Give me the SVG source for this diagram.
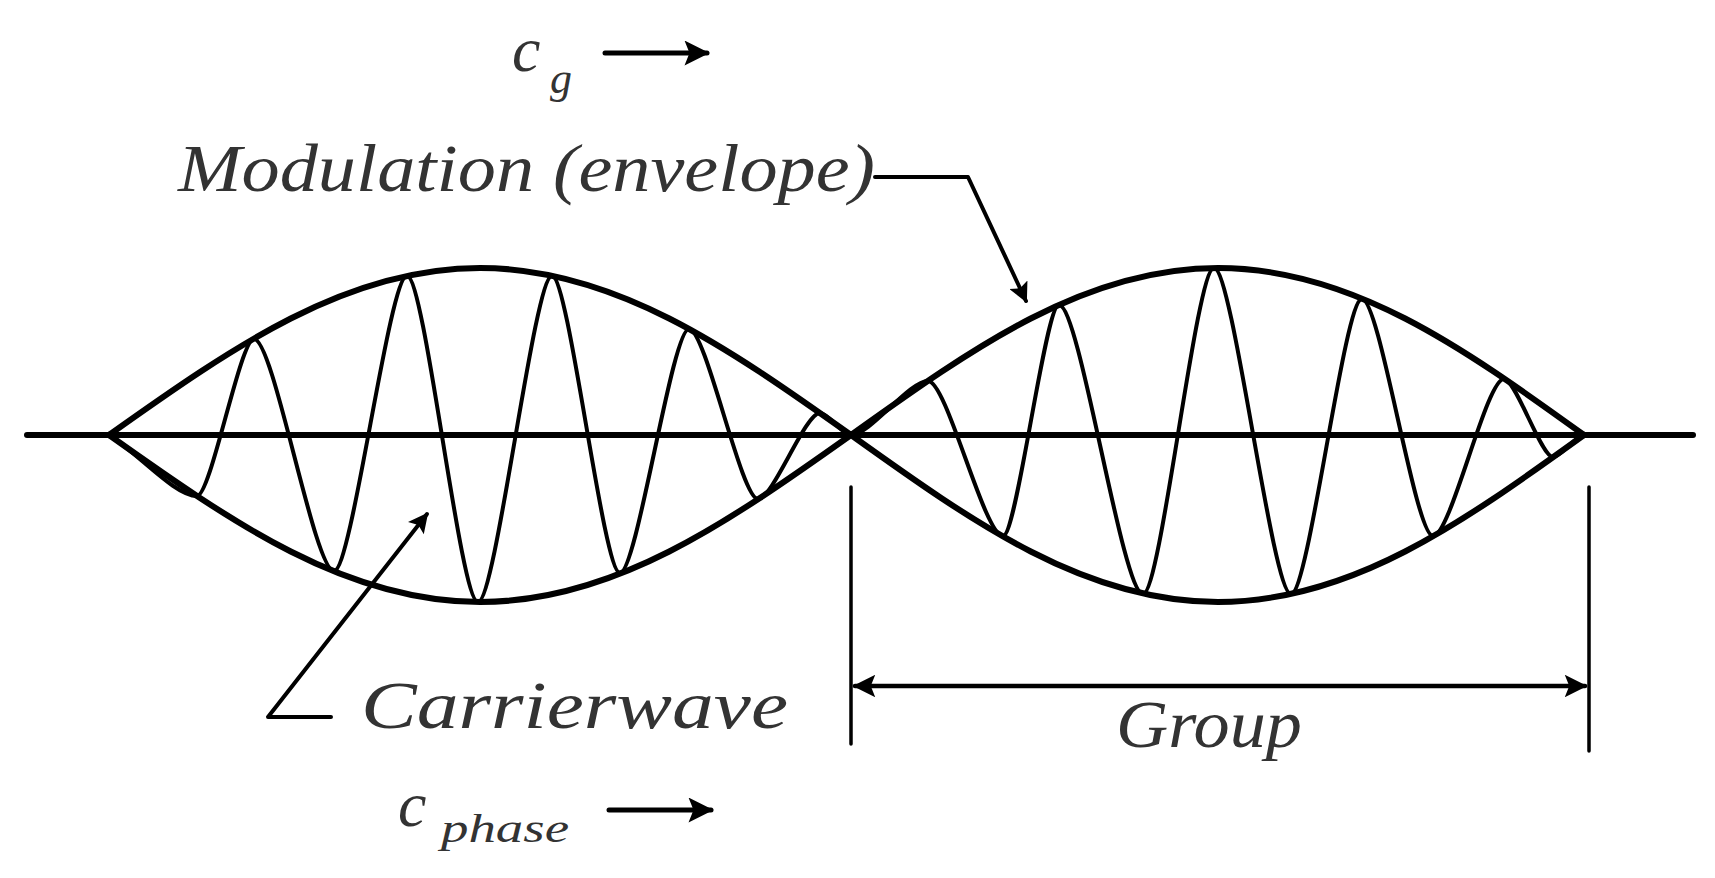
<svg xmlns="http://www.w3.org/2000/svg" width="1715" height="878" viewBox="0 0 1715 878">
<style>
.t{font-family:"Liberation Serif",serif;font-style:italic;fill:#333}
.ln{fill:none;stroke:#000;stroke-linecap:round;stroke-linejoin:round}
</style>
<defs>
<marker id="ah" viewBox="0 0 10 10" refX="9" refY="5" markerWidth="7" markerHeight="5" orient="auto-start-reverse" markerUnits="strokeWidth">
<path d="M0,0 L10,5 L0,10 L2,5 Z" fill="#000"/>
</marker>
</defs>
<rect width="1715" height="878" fill="#fff"/>
<g id="axis"><path class="ln" d="M27,435 H1693" stroke-width="6"/></g>
<g id="envelope">
<path class="ln" stroke-width="6" d="M109,435 C233,347 346,268 480,268 C614,268 727,347 851,435 C974,347 1085,268 1218,268 C1351,268 1462,347 1584,435"/>
<path class="ln" stroke-width="6" d="M109,435 C233,523 346,602 480,602 C614,602 727,523 851,435 C974,523 1085,602 1218,602 C1351,602 1462,523 1584,435"/>
</g>
<g id="carrier">
<path class="ln" stroke-width="4" d="M109,435 C140,455 175,496 197,496 C211,496 240,339 254,339 C274,339 314,571 334,571 C352,571 389,276 407,276 C425,276 460,602 478,602 C496,602 534,276 552,276 C569,276 603,573 620,573 C637,573 672,329 689,329 C706,329 741,499 758,499 C773,499 805,413 820,413 C828,413 843,435 851,435 C870,435 909,381 928,381 C947,381 984,536 1003,536 C1017,536 1045,305 1059,305 C1080,305 1122,594 1143,594 C1161,594 1196,268 1214,268 C1233,268 1272,594 1291,594 C1309,594 1344,299 1362,299 C1380,299 1415,536 1433,536 C1451,536 1486,379 1504,379 C1516,379 1541,457 1553,457 C1561,457 1576,435 1584,435"/>
</g>
<g id="connectors">
<path class="ln" stroke-width="5" d="M605,53 H707" marker-end="url(#ah)"/>
<path class="ln" stroke-width="5" d="M609,810 H711" marker-end="url(#ah)"/>
<path class="ln" stroke-width="4" d="M875,177 H968 L1026,301" marker-end="url(#ah)"/>
<path class="ln" stroke-width="4" d="M331,717 H268 L427,514" marker-end="url(#ah)"/>
<path class="ln" stroke-width="3.5" d="M851,487 V744 M1589,487 V751"/>
<path class="ln" stroke-width="4.5" d="M855,686 H1585" marker-start="url(#ah)" marker-end="url(#ah)"/>
</g>
<g id="label-cg"><text class="t" x="512" y="71" font-size="64">c</text><text class="t" x="550" y="93" font-size="44">g</text></g>
<g id="label-modulation"><text class="t" x="178" y="191" font-size="68" textLength="697" lengthAdjust="spacingAndGlyphs">Modulation (envelope)</text></g>
<g id="label-carrier"><text class="t" x="361" y="728" font-size="68" textLength="427" lengthAdjust="spacingAndGlyphs">Carrierwave</text></g>
<g id="label-group"><text class="t" x="1116" y="747" font-size="68" textLength="186" lengthAdjust="spacingAndGlyphs">Group</text></g>
<g id="label-cphase"><text class="t" x="398" y="826" font-size="64">c</text><text class="t" x="441" y="842" font-size="40" textLength="128" lengthAdjust="spacingAndGlyphs">phase</text></g>
</svg>
